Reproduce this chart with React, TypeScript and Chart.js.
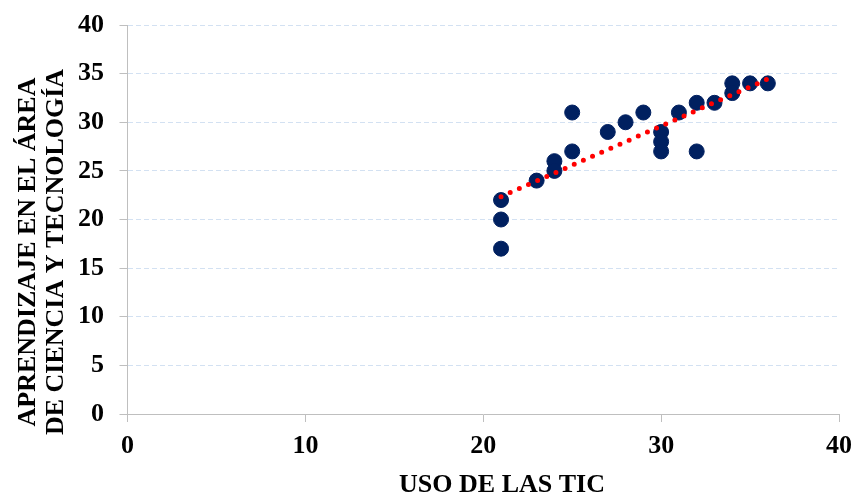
import { useEffect, useRef } from "react";
import { Chart, registerables } from "chart.js";

Chart.register(...registerables);

// ---- data ----
const usoTic = [21, 21, 21, 23, 24, 24, 25, 25, 27, 28, 29, 30, 30, 30, 31, 32, 32, 33, 34, 34, 35, 36];
const aprendizaje = [22, 20, 17, 24, 26, 25, 31, 27, 29, 30, 31, 29, 28, 27, 31, 32, 27, 32, 34, 33, 34, 34];
const trendX = [21, 36];
const trendY = [22.35, 34.45];
const xTickValues = [0, 10, 20, 30, 40];
const yTickValues = [0, 5, 10, 15, 20, 25, 30, 35, 40];
const xTitle = "USO DE LAS TIC";
const yTitle = ["APRENDIZAJE EN EL ÁREA", "DE CIENCIA Y TECNOLOGÍA"];

const FONT_FAMILY = "'Liberation Serif', 'Times New Roman', serif";
const AXIS_GRAY = "#bfbfbf";
const GRID_BLUE = "#d3e1f2";

const titlesPlugin = {
  id: "axisTitles",
  afterDraw(chart: any) {
    const ctx = chart.ctx as CanvasRenderingContext2D;
    ctx.save();
    ctx.font = `bold 26px ${FONT_FAMILY}`;
    ctx.fillStyle = "#000000";
    ctx.textAlign = "center";
    ctx.textBaseline = "alphabetic";
    ctx.fillText(xTitle, 502, 492);
    const xs = [35, 63];
    yTitle.forEach((line, i) => {
      ctx.save();
      ctx.translate(xs[i], 252);
      ctx.rotate(-Math.PI / 2);
      ctx.fillText(line, 0, 0);
      ctx.restore();
    });
    ctx.restore();
  },
};

export default function App() {
  const canvasRef = useRef<HTMLCanvasElement | null>(null);

  useEffect(() => {
    if (!canvasRef.current) return;
    const points = usoTic.map((x, i) => ({ x, y: aprendizaje[i] }));
    const trend = trendX.map((x, i) => ({ x, y: trendY[i] }));
    const tickFont = { family: FONT_FAMILY, size: 26, weight: "bold" as const };

    const chart = new Chart(canvasRef.current, {
      type: "scatter",
      data: {
        datasets: [
          {
            type: "line",
            label: "Tendencia",
            data: trend,
            borderColor: "#ff0000",
            borderWidth: 5,
            borderDash: [0, 10],
            borderCapStyle: "round",
            pointRadius: 0,
            fill: false,
            order: 0,
          } as any,
          {
            label: "Datos",
            data: points,
            backgroundColor: "#002060",
            borderColor: "#002060",
            borderWidth: 1,
            pointRadius: 7.5,
            pointHoverRadius: 7.5,
            order: 1,
          },
        ],
      },
      options: {
        animation: false,
        responsive: false,
        maintainAspectRatio: false,
        layout: { padding: { left: 0, top: 25, right: 15, bottom: 0 } },
        plugins: {
          legend: { display: false },
          tooltip: { enabled: false },
        },
        scales: {
          x: {
            type: "linear",
            min: 0,
            max: 40,
            afterFit: (s: any) => {
              s.height = 80;
              s.paddingLeft = 0;
              s.paddingRight = 0;
            },
            afterBuildTicks: (s: any) => {
              s.ticks = xTickValues.map((v) => ({ value: v }));
            },
            ticks: {
              font: tickFont,
              color: "#000000",
              padding: 9,
            },
            grid: {
              drawOnChartArea: false,
              drawTicks: true,
              tickLength: 8,
              tickColor: AXIS_GRAY,
            },
            border: { display: true, color: AXIS_GRAY, width: 1 },
          },
          y: {
            type: "linear",
            min: 0,
            max: 40,
            afterFit: (s: any) => {
              s.width = 127.5;
              s.paddingTop = 0;
              s.paddingBottom = 0;
            },
            afterBuildTicks: (s: any) => {
              s.ticks = yTickValues.map((v) => ({ value: v }));
            },
            ticks: {
              font: tickFont,
              color: "#000000",
              padding: 15.5,
            },
            grid: {
              color: (c: any) => (c.tick && c.tick.value === 0 ? "rgba(0,0,0,0)" : GRID_BLUE),
              lineWidth: 1,
              drawTicks: true,
              tickLength: 8,
              tickColor: AXIS_GRAY,
            },
            border: { display: true, color: AXIS_GRAY, width: 1, dash: [5, 3] },
          },
        },
      },
      plugins: [titlesPlugin],
    });

    return () => chart.destroy();
  }, []);

  return (
    <div style={{ position: "fixed", left: 0, top: 0, width: 854, height: 494, background: "#ffffff" }}>
      <canvas ref={canvasRef} width={854} height={494} />
    </div>
  );
}
